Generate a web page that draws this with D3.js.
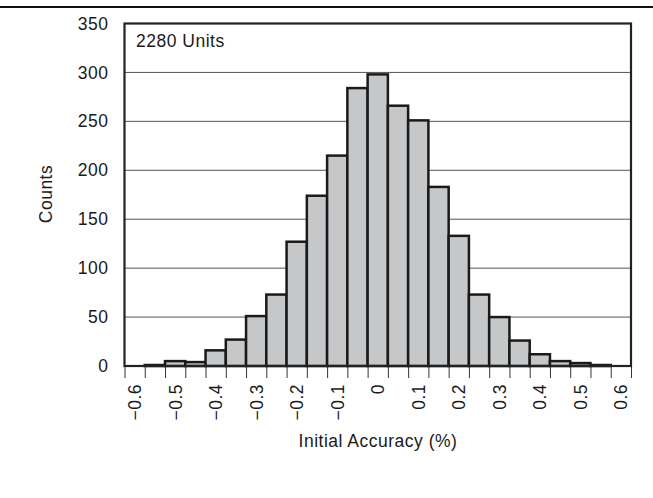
<!DOCTYPE html>
<html>
<head>
<meta charset="utf-8">
<script src="https://cdn.jsdelivr.net/npm/d3@7"></script>
<style>
  html, body { margin: 0; padding: 0; background: #fff; }
  svg { display: block; }
  text { font-family: "Liberation Sans", Arial, sans-serif; fill: #1a1a1a; letter-spacing: 0.5px; }
</style>
</head>
<body>
<svg id="chart" width="653" height="498"></svg>
<script>
const binCenters = [-0.6, -0.55, -0.5, -0.45, -0.4, -0.35, -0.3, -0.25, -0.2, -0.15, -0.1, -0.05, 0,
                    0.05, 0.1, 0.15, 0.2, 0.25, 0.3, 0.35, 0.4, 0.45, 0.5, 0.55, 0.6];
const counts = [0, 1, 5, 4, 16, 27, 51, 73, 127, 174, 215, 284, 298,
                266, 251, 183, 133, 73, 50, 26, 12, 5, 3, 1, 0];
const xLabelValues = [-0.6, -0.5, -0.4, -0.3, -0.2, -0.1, 0, 0.1, 0.2, 0.3, 0.4, 0.5, 0.6];
const xLabelTexts = ["\u22120.6", "\u22120.5", "\u22120.4", "\u22120.3", "\u22120.2", "\u22120.1", "0",
                     "0.1", "0.2", "0.3", "0.4", "0.5", "0.6"];
const yTicks = [0, 50, 100, 150, 200, 250, 300, 350];
const binWidth = 0.05;
const annotation = "2280 Units";
const xTitle = "Initial Accuracy (%)";
const yTitle = "Counts";

(function () {
const svg = d3.select("#chart");
const pL = 124.5, pR = 631, pT = 23.5, pB = 366;
const FS = 17.5;

const x = d3.scaleLinear().domain([-0.625, 0.625]).range([pL, pR]);
const y = d3.scaleLinear().domain([0, 350]).range([pB, pT]);

// top rule
svg.append("line").attr("x1", 0).attr("x2", 653).attr("y1", 7).attr("y2", 7)
  .attr("stroke", "#111").attr("stroke-width", 2);

// gridlines
svg.append("g").selectAll("line").data(yTicks.filter(d => d > 0 && d < 350)).join("line")
  .attr("x1", pL).attr("x2", pR)
  .attr("y1", d => y(d)).attr("y2", d => y(d))
  .attr("stroke", "#555").attr("stroke-width", 1);

// bars
svg.append("g").selectAll("rect").data(binCenters.map((c, i) => ({c, v: counts[i]}))).join("rect")
  .attr("x", d => x(d.c - binWidth / 2))
  .attr("width", d => x(d.c + binWidth / 2) - x(d.c - binWidth / 2))
  .attr("y", d => y(d.v))
  .attr("height", d => y(0) - y(d.v))
  .attr("fill", "#c6c7c9")
  .attr("stroke", "#1a1a1a")
  .attr("stroke-width", 2.5);

// x tick marks at bin edges
const edges = binCenters.map(c => c - binWidth / 2).concat([binCenters[binCenters.length - 1] + binWidth / 2]);
const xTickAxis = d3.axisBottom(x).tickValues(edges).tickSize(12).tickFormat("");
const gxt = svg.append("g").attr("transform", `translate(0,${pB})`).call(xTickAxis);
gxt.select(".domain").remove();
gxt.selectAll(".tick line").attr("stroke", "#333").attr("stroke-width", 1);

// x labels at bin centers
const xLabAxis = d3.axisBottom(x).tickValues(xLabelValues).tickSize(0)
  .tickFormat((d, i) => xLabelTexts[i]);
const gxl = svg.append("g").attr("transform", `translate(0,${pB})`).call(xLabAxis);
gxl.select(".domain").remove();
gxl.selectAll(".tick text")
  .attr("font-size", FS).attr("font-family", "Liberation Sans, Arial, sans-serif")
  .attr("fill", "#1a1a1a")
  .attr("transform", "rotate(-90)")
  .attr("text-anchor", "end")
  .attr("x", -18).attr("y", 0).attr("dy", "0.35em");

// y axis labels
const yAxis = d3.axisLeft(y).tickValues(yTicks).tickSize(0).tickPadding(16);
const gy = svg.append("g").attr("transform", `translate(${pL},0)`).call(yAxis);
gy.select(".domain").remove();
gy.selectAll(".tick text").attr("font-size", FS)
  .attr("font-family", "Liberation Sans, Arial, sans-serif").attr("fill", "#1a1a1a");

// frame
svg.append("rect").attr("x", pL).attr("y", pT)
  .attr("width", pR - pL).attr("height", pB - pT)
  .attr("fill", "none").attr("stroke", "#222").attr("stroke-width", 2.2);

// annotation
svg.append("text").attr("x", 136).attr("y", 47).attr("font-size", FS).text(annotation);

// titles
svg.append("text").attr("x", 378).attr("y", 447)
  .attr("text-anchor", "middle").attr("font-size", FS).text(xTitle);
svg.append("text").attr("transform", `translate(46,194) rotate(-90)`)
  .attr("text-anchor", "middle").attr("dy", "0.35em").attr("font-size", FS).text(yTitle);
})();
</script>
</body>
</html>
